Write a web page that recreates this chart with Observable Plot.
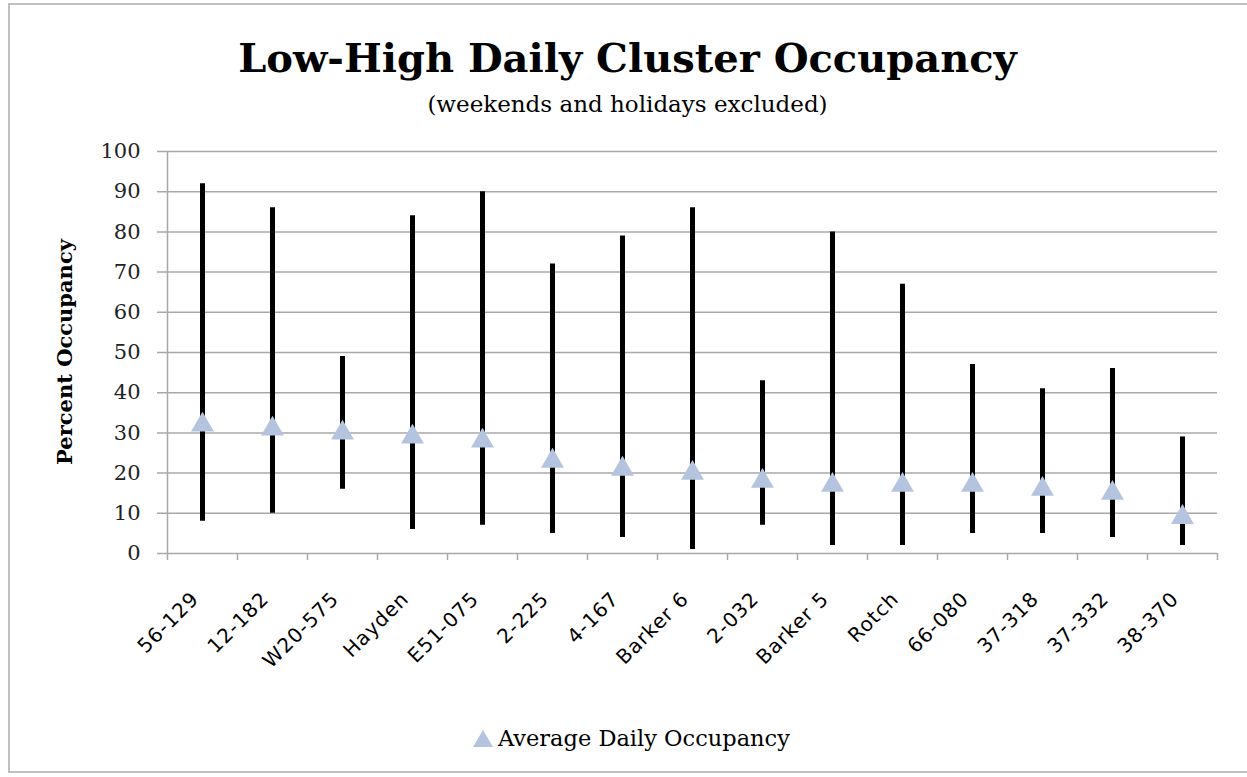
<!DOCTYPE html>
<html>
<head>
<meta charset="utf-8">
<script src="https://cdn.jsdelivr.net/npm/d3@7"></script>
<script src="https://cdn.jsdelivr.net/npm/@observablehq/plot@0.6"></script>
<style>
  html, body { margin: 0; padding: 0; background: #fff; overflow: hidden; }
  #wrap { position: relative; width: 1247px; height: 777px; overflow: hidden; background: #fff; }
  #frame { position: absolute; left: 8px; top: 3px; width: 1320px; height: 770px; border: 2px solid #c0c0c0; box-sizing: border-box; }
  #title { position: absolute; left: 8px; width: 1239px; top: 38px; text-align: center; font-family: "DejaVu Serif", serif; font-weight: bold; font-size: 40px; line-height: 40px; color: #000; }
  #subtitle { position: absolute; left: 8px; width: 1239px; top: 93px; text-align: center; font-family: "DejaVu Serif", serif; font-size: 23px; line-height: 23px; color: #000; }
  #ylabel { position: absolute; left: 65px; top: 352px; transform: translate(-50%, -50%) rotate(-90deg); white-space: nowrap; font-family: "DejaVu Serif", serif; font-weight: bold; font-size: 21px; line-height: 20px; }
  #chart { position: absolute; left: 0; top: 130px; }
  #legend { position: absolute; left: 472px; top: 726px; display: flex; align-items: center; font-family: "DejaVu Serif", serif; font-size: 22.5px; line-height: 24px; }
  #legend svg { margin-right: 4px; }
  .xlabels text { letter-spacing: 1px; }
</style>
</head>
<body>
<div id="wrap">
  <div id="frame"></div>
  <div id="title">Low-High Daily Cluster Occupancy</div>
  <div id="subtitle">(weekends and holidays excluded)</div>
  <div id="ylabel">Percent Occupancy</div>
  <div id="chart"></div>
  <div id="legend"><svg width="22" height="20"><path d="M11,2 L21,19 L1,19 Z" fill="#b4c4de"/></svg><span>Average Daily Occupancy</span></div>
</div>
<script>
const clusters = ["56-129","12-182","W20-575","Hayden","E51-075","2-225","4-167","Barker 6","2-032","Barker 5","Rotch","66-080","37-318","37-332","38-370"];
const lowValues = [8, 10, 16, 6, 7, 5, 4, 1, 7, 2, 2, 5, 5, 4, 2];
const highValues = [92, 86, 49, 84, 90, 72, 79, 86, 43, 80, 67, 47, 41, 46, 29];
const averageValues = [32, 31, 30, 29, 28, 23, 21, 20, 18, 17, 17, 17, 16, 15, 9];
const yTicks = [0, 10, 20, 30, 40, 50, 60, 70, 80, 90, 100];

const rows = clusters.map((name, i) => ({
  name, idx: i + 0.5, low: lowValues[i], high: highValues[i], avg: averageValues[i]
}));
const boundaries = d3.range(clusters.length + 1);
const gray = "#a8a8a8";

const chart = Plot.plot({
  width: 1247,
  height: 570,
  marginLeft: 167,
  marginRight: 30,
  marginTop: 21,
  marginBottom: 147,
  style: { fontFamily: "DejaVu Serif, serif", fontSize: "21px", color: "#000", background: "transparent" },
  x: { domain: [0, clusters.length], axis: null },
  y: { domain: [0, 100], axis: null },
  marks: [
    Plot.ruleY(yTicks, { stroke: gray, strokeWidth: 1.5, insetLeft: -10 }),
    Plot.ruleX([0], { y1: 0, y2: 100, stroke: gray, strokeWidth: 1.5 }),
    Plot.ruleX(boundaries, { y1: 0, y2: 0, insetBottom: -7, stroke: gray, strokeWidth: 1.5 }),
    Plot.axisY(yTicks, { tickSize: 0, tickPadding: 27, fontSize: 21, fontFamily: "DejaVu Serif, serif", fill: "#222" }),
    Plot.ruleX(rows, { x: "idx", y1: "low", y2: "high", stroke: "#000", strokeWidth: 5 }),
    Plot.dot(rows, { x: "idx", y: "avg", symbol: "triangle", r: 8.5, fill: "#b4c4de", stroke: "none" }),
    Plot.text(rows, { x: "idx", y: 0, text: "name", rotate: -45, textAnchor: "end", lineAnchor: "middle", dx: -7, dy: 42, fontFamily: "DejaVu Sans, sans-serif", fontSize: 20, fill: "#000", className: "xlabels" })
  ]
});
document.getElementById("chart").appendChild(chart);
</script>
</body>
</html>
